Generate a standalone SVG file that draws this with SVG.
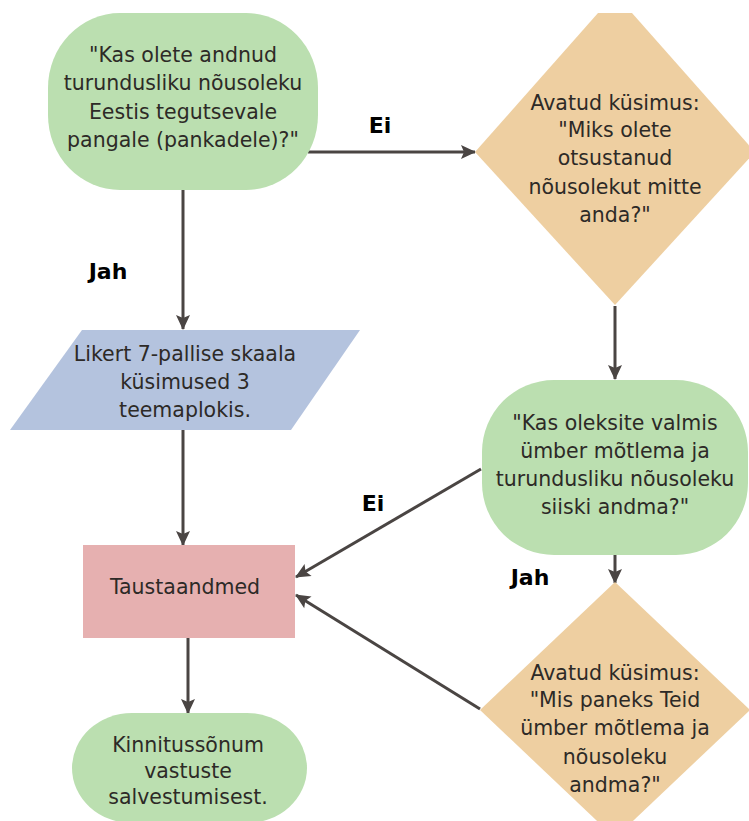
<svg xmlns="http://www.w3.org/2000/svg" width="749" height="821" viewBox="0 0 749 821">
<style>
.t{font-family:"DejaVu Sans","Liberation Sans",sans-serif;font-size:20.5px;fill:#2d2a27;text-anchor:middle;dominant-baseline:central}
.lb{font-family:"DejaVu Sans","Liberation Sans",sans-serif;font-size:22px;font-weight:bold;fill:#000;text-anchor:middle;dominant-baseline:central}
.green{fill:#bbdfb0}
.orange{fill:#eecfa1}
.blue{fill:#b4c3de}
.pink{fill:#e6b0b0}
.c{stroke:#4a4543;stroke-width:3;fill:none;marker-end:url(#ah)}
</style>
<defs>
<marker id="ah" markerUnits="userSpaceOnUse" markerWidth="18" markerHeight="18" refX="15" refY="9" orient="auto">
<path d="M1,2 L16,9 L1,16 L4,9 Z" fill="#4a4543"/>
</marker>
</defs>
<g id="connectors">
<path class="c" d="M308,152 H475"/>
<path class="c" d="M183,190 V329"/>
<path class="c" d="M183,430 V545"/>
<path class="c" d="M615,306 V379"/>
<path class="c" d="M481,469 L296,577"/>
<path class="c" d="M615,555 V583"/>
<path class="c" d="M480,709 L296,595"/>
<path class="c" d="M188,638 V713"/>
</g>
<g id="labels">
<text class="lb" x="380" y="125">Ei</text>
<text class="lb" x="108" y="271">Jah</text>
<text class="lb" x="373" y="503">Ei</text>
<text class="lb" x="530" y="577">Jah</text>
</g>
<g id="n1">
<rect class="green" x="48" y="13" width="270" height="177" rx="72" ry="75"/>
<text class="t" x="183" y="55">"Kas olete andnud</text>
<text class="t" x="183" y="83">turundusliku nõusoleku</text>
<text class="t" x="183" y="112">Eestis tegutsevale</text>
<text class="t" x="183" y="140">pangale (pankadele)?"</text>
</g>
<g id="n2">
<polygon class="orange" points="598,13 632,13 755,152 615,305 475,152"/>
<text class="t" x="615" y="103">Avatud küsimus:</text>
<text class="t" x="615" y="130">"Miks olete</text>
<text class="t" x="615" y="158">otsustanud</text>
<text class="t" x="615" y="187">nõusolekut mitte</text>
<text class="t" x="615" y="215">anda?"</text>
</g>
<g id="n3">
<polygon class="blue" points="82,330 360,330 291,430 10,430"/>
<text class="t" x="185" y="354">Likert 7-pallise skaala</text>
<text class="t" x="185" y="382">küsimused 3</text>
<text class="t" x="185" y="410">teemaplokis.</text>
</g>
<g id="n4">
<rect class="green" x="482" y="380" width="266" height="175" rx="72" ry="72"/>
<text class="t" x="615" y="423">"Kas oleksite valmis</text>
<text class="t" x="615" y="451">ümber mõtlema ja</text>
<text class="t" x="615" y="479">turundusliku nõusoleku</text>
<text class="t" x="615" y="507">siiski andma?"</text>
</g>
<g id="n5">
<rect class="pink" x="83" y="545" width="212" height="93"/>
<text class="t" x="185" y="587">Taustaandmed</text>
</g>
<g id="n6">
<polygon class="orange" points="615,582 750,710 615,838 480,710"/>
<text class="t" x="615" y="673">Avatud küsimus:</text>
<text class="t" x="615" y="700">"Mis paneks Teid</text>
<text class="t" x="615" y="728">ümber mõtlema ja</text>
<text class="t" x="615" y="757">nõusoleku</text>
<text class="t" x="615" y="785">andma?"</text>
</g>
<g id="n7">
<rect class="green" x="72" y="713" width="235" height="110" rx="60" ry="55"/>
<text class="t" x="188" y="745">Kinnitussõnum</text>
<text class="t" x="188" y="771">vastuste</text>
<text class="t" x="188" y="797">salvestumisest.</text>
</g>
</svg>
